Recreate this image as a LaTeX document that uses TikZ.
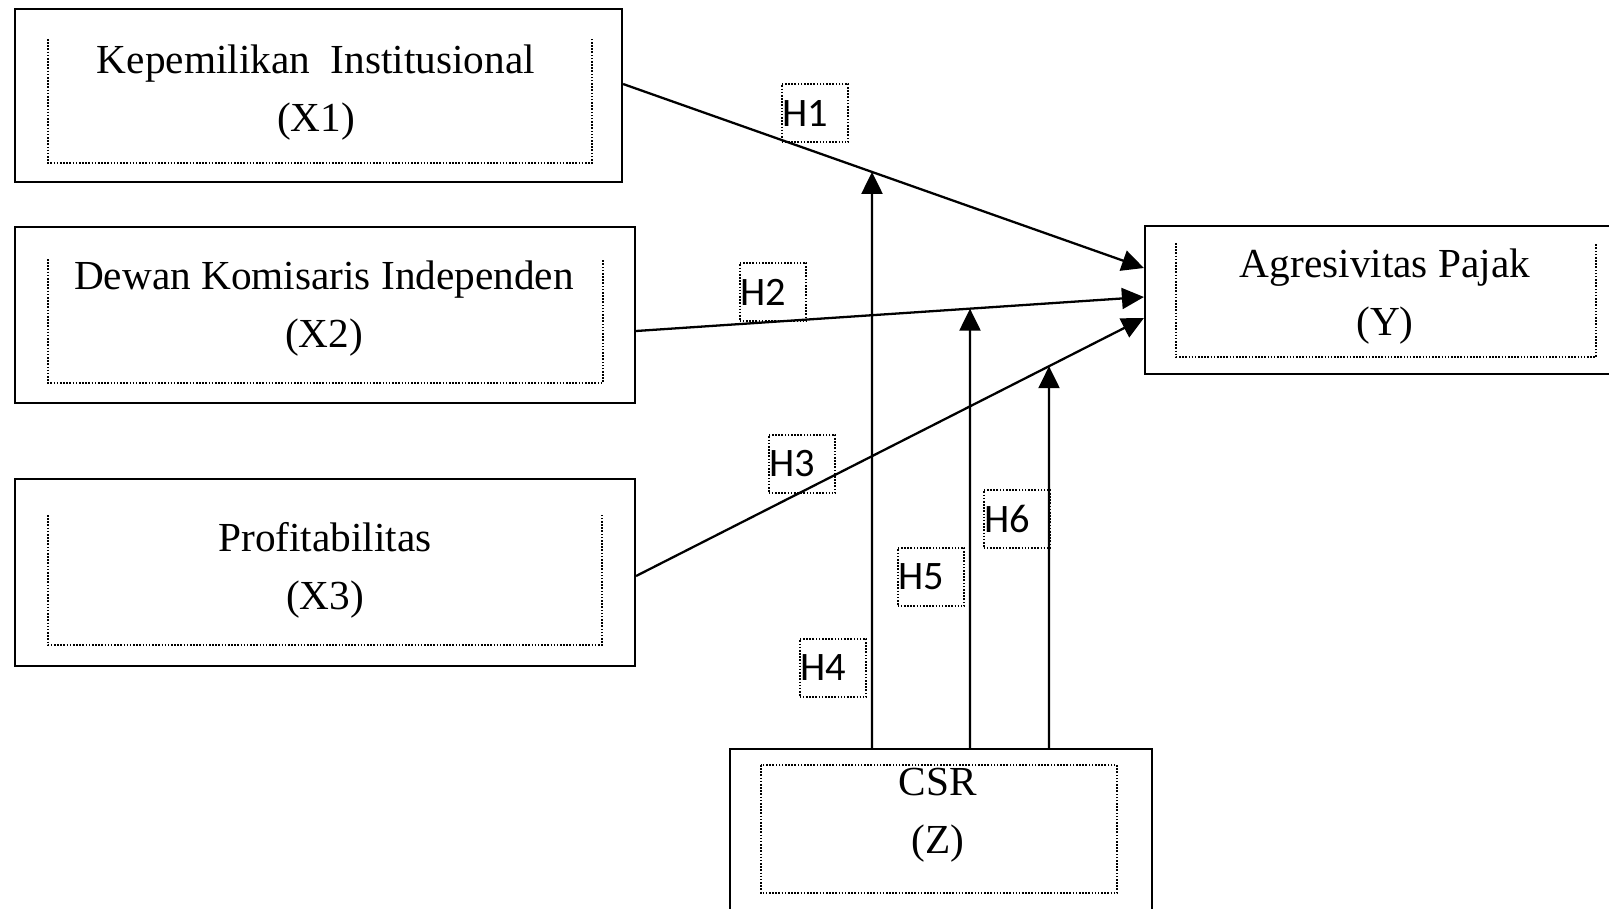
\documentclass[tikz,border=0pt]{standalone}
\usepackage{fontspec}
\setmainfont{Liberation Serif}
\newfontfamily\hypfont{Carlito}
\usetikzlibrary{arrows.meta,calc}

\begin{document}
\begin{tikzpicture}[x=0.02cm, y=-0.02cm, line width=1.3pt,
    main/.style = {draw, rectangle, inner sep=0pt},
    txt/.style = {align=center, font=\fontsize{23.5}{33}\selectfont},
    dots/.style = {line width=1.2pt, dash pattern=on 0.9pt off 0.9pt},
    hyp/.style = {draw, dots, inner xsep=0.5pt, inner ysep=0pt, minimum height=1.16cm, text width=1.3cm, align=left, font=\hypfont\fontsize{23}{26}\selectfont},
    arr/.style = {-{Triangle[length=0.44cm, width=0.42cm]}}]
\useasboundingbox (0,0) rectangle (1609,909);
% variables
\node[main, minimum width=12.14cm, minimum height=3.46cm] (x1) at (318.5,95.5) {};
\node[main, minimum width=12.4cm, minimum height=3.52cm] (x2) at (325,315) {};
\node[main, minimum width=12.4cm, minimum height=3.74cm] (x3) at (325,572.5) {};
\node[main, minimum width=9.5cm, minimum height=2.96cm] (y) at (1382.5,300) {};
\node[main, minimum width=8.44cm, minimum height=3.62cm] (z) at (941,839.5) {};
% dotted frames
\draw[dots] (48,39) |- (592,163) -- (592,39);
\draw[dots] (48,259) |- (603,383) -- (603,259);
\draw[dots] (48,515) |- (602,645) -- (602,515);
\draw[dots] (1176,243) |- (1596,357) -- (1596,243);
\draw[dots] (761,765) rectangle (1117,893);
% texts
\node[txt] (t1) at (316,93) {Kepemilikan\ \ Institusional\\(X1)};
\node[txt] (t2) at (324,309) {Dewan Komisaris Independen\\(X2)};
\node[txt] (t3) at (325,570) {Profitabilitas\\(X3)};
\node[txt] (ty) at (1385,297) {Agresivitas Pajak\\(Y)};
\node[txt] (tz) at (938,815) {CSR\\(Z)};
% hypotheses
\node[hyp] (h1) at (815,113) {H1};
\node[hyp] (h2) at (773,292) {H2};
\node[hyp] (h3) at (802,464) {H3};
\node[hyp] (h4) at (833,668) {H4};
\node[hyp] (h5) at (931,577) {H5};
\node[hyp] (h6) at (1017,519) {H6};
% direct paths
\coordinate (a1) at ($(x1.east)+(0,-11.5)$);
\coordinate (b1) at ($(y.west)+(0,-32)$);
\coordinate (a2) at ($(x2.east)+(0,16)$);
\coordinate (b2) at ($(y.west)+(0,-3)$);
\coordinate (a3) at ($(x3.east)+(0,3.5)$);
\coordinate (b3) at ($(y.west)+(0,18)$);
\draw[arr] (a1) -- (b1);
\draw[arr] (a2) -- (b2);
\draw[arr] (a3) -- (b3);
% moderation
\coordinate (z1) at ($(z.north)+(-69,0)$);
\coordinate (z2) at ($(z.north)+(29,0)$);
\coordinate (z3) at ($(z.north)+(108,0)$);
\coordinate (u1) at ($(z1)+(0,-700)$);
\coordinate (u2) at ($(z2)+(0,-700)$);
\coordinate (u3) at ($(z3)+(0,-700)$);
\draw[arr] (z1) -- (intersection of a1--b1 and z1--u1);
\draw[arr] (z2) -- (intersection of a2--b2 and z2--u2);
\draw[arr] (z3) -- (intersection of a3--b3 and z3--u3);
\end{tikzpicture}
\end{document}
